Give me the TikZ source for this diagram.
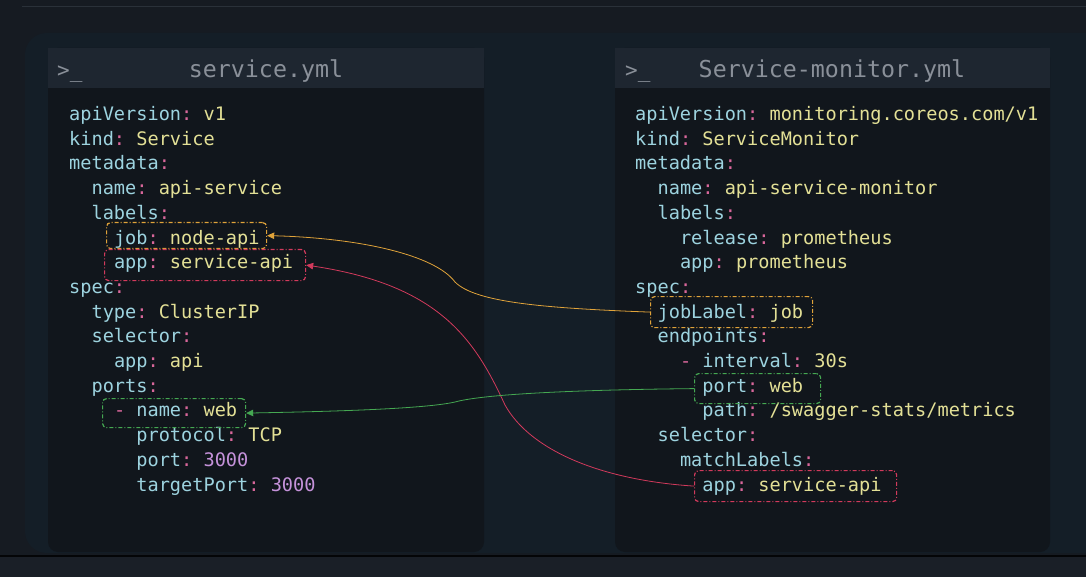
\documentclass[tikz,border=0pt]{standalone}
\usepackage{fontspec}
\setmonofont{DejaVu Sans Mono}
\usetikzlibrary{arrows.meta}
\definecolor{bgout}{HTML}{161B22}
\definecolor{bgpanel}{HTML}{141E27}
\definecolor{codebg}{HTML}{11161C}
\definecolor{titlebg}{HTML}{1E2630}
\definecolor{titlefg}{HTML}{8A9099}
\definecolor{keyc}{HTML}{9DD3DF}
\definecolor{colc}{HTML}{D9679B}
\definecolor{valc}{HTML}{E3E096}
\definecolor{numc}{HTML}{C592DA}
\definecolor{yelc}{HTML}{E0A33A}
\definecolor{redc}{HTML}{D23A5C}
\definecolor{grnc}{HTML}{45A852}
\definecolor{topline}{HTML}{2A3139}
\definecolor{botband}{HTML}{1A1F27}
\newcommand\codefont{\ttfamily\fontsize{18.6pt}{24.7pt}\selectfont}
\newcommand\titlefont{\ttfamily\fontsize{23.3pt}{28pt}\selectfont}
\newcommand\yk[1]{\textcolor{keyc}{#1}}
\newcommand\yc{\textcolor{colc}{:}}
\newcommand\yv[1]{\textcolor{valc}{#1}}
\newcommand\yn[1]{\textcolor{numc}{#1}}
\newcommand\ydash{\textcolor{colc}{-}}
\newcommand\kv[2]{\yk{#1}\yc{} \yv{#2}}
\newcommand\kn[2]{\yk{#1}\yc{} \yn{#2}}
\newcommand\ko[1]{\yk{#1}\yc}
\newcommand\cl[5]{\node[code] (#1) at ({#2+#3*11.2},{120.5+#4*24.7}) {#5};}
\tikzset{
  code/.style={anchor=base west, inner sep=0pt, font=\codefont},
  dbox/.style={draw=#1, line width=1.2pt, rounded corners=4pt,
    dash pattern=on 4pt off 2pt on 1pt off 2pt, anchor=north west, inner sep=0pt},
  conn/.style={draw=#1, line width=0.8pt, -{Triangle[length=7pt,width=6.5pt]}},
  titletext/.style={anchor=base, text=titlefg, font=\titlefont, inner sep=0pt},
  prompt/.style={anchor=base west, text=titlefg, font=\ttfamily\fontsize{21pt}{24pt}\selectfont, inner sep=0pt}
}
\begin{document}
\begin{tikzpicture}[x=1pt,y=-1pt]
\useasboundingbox (0,0) rectangle (1086,577);
\fill[bgout] (0,0) rectangle (1086,577);
\draw[topline, line width=1pt] (22,7) -- (1086,7);
\fill[bgpanel, rounded corners=22pt] (25,33) rectangle (1110,553);
\fill[botband] (0,556) rectangle (1086,577);
\draw[black!80!bgout, line width=1.2pt] (0,556) -- (1086,556);
% code panels
\fill[codebg, rounded corners=10pt] (48,48) rectangle (484,552);
\fill[titlebg] (48,48) rectangle (484,88);
\fill[codebg, rounded corners=10pt] (615,48) rectangle (1050,552);
\fill[titlebg] (615,48) rectangle (1050,88);
\node[prompt] (p1) at (57,78) {>\_};
\node[titletext] (t1) at (266,78) {service.yml};
\node[prompt] (p2) at (625,78) {>\_};
\node[titletext] (t2) at (832,78) {Service-monitor.yml};
% left code
\cl{l0}{69}{0}{0}{\kv{apiVersion}{v1}}
\cl{l1}{69}{0}{1}{\kv{kind}{Service}}
\cl{l2}{69}{0}{2}{\ko{metadata}}
\cl{l3}{69}{2}{3}{\kv{name}{api-service}}
\cl{l4}{69}{2}{4}{\ko{labels}}
\cl{l5}{69}{4}{5}{\kv{job}{node-api}}
\cl{l6}{69}{4}{6}{\kv{app}{service-api}}
\cl{l7}{69}{0}{7}{\ko{spec}}
\cl{l8}{69}{2}{8}{\kv{type}{ClusterIP}}
\cl{l9}{69}{2}{9}{\ko{selector}}
\cl{l10}{69}{4}{10}{\kv{app}{api}}
\cl{l11}{69}{2}{11}{\ko{ports}}
\cl{l12}{69}{4}{12}{\ydash{} \kv{name}{web}}
\cl{l13}{69}{6}{13}{\kv{protocol}{TCP}}
\cl{l14}{69}{6}{14}{\kn{port}{3000}}
\cl{l15}{69}{6}{15}{\kn{targetPort}{3000}}
% right code
\cl{r0}{635}{0}{0}{\kv{apiVersion}{monitoring.coreos.com/v1}}
\cl{r1}{635}{0}{1}{\kv{kind}{ServiceMonitor}}
\cl{r2}{635}{0}{2}{\ko{metadata}}
\cl{r3}{635}{2}{3}{\kv{name}{api-service-monitor}}
\cl{r4}{635}{2}{4}{\ko{labels}}
\cl{r5}{635}{4}{5}{\kv{release}{prometheus}}
\cl{r6}{635}{4}{6}{\kv{app}{prometheus}}
\cl{r7}{635}{0}{7}{\ko{spec}}
\cl{r8}{635}{2}{8}{\kv{jobLabel}{job}}
\cl{r9}{635}{2}{9}{\ko{endpoints}}
\cl{r10}{635}{4}{10}{\ydash{} \kv{interval}{30s}}
\cl{r11}{635}{6}{11}{\kv{port}{web}}
\cl{r12}{635}{6}{12}{\kv{path}{/swagger-stats/metrics}}
\cl{r13}{635}{2}{13}{\ko{selector}}
\cl{r14}{635}{4}{14}{\ko{matchLabels}}
\cl{r15}{635}{6}{15}{\kv{app}{service-api}}
% dashed boxes
\node[dbox=yelc, minimum width=160pt, minimum height=26pt] (jobbox) at (106,222) {};
\node[dbox=redc, minimum width=201pt, minimum height=31pt] (appbox) at (104,249) {};
\node[dbox=grnc, minimum width=143pt, minimum height=29pt] (webbox) at (102,398) {};
\node[dbox=yelc, minimum width=162pt, minimum height=31pt] (jlbox) at (650,296) {};
\node[dbox=grnc, minimum width=126pt, minimum height=30pt] (portbox) at (694,373) {};
\node[dbox=redc, minimum width=202pt, minimum height=31pt] (appbox2) at (694,470) {};
% connectors
\draw[conn=yelc] (jlbox.west) .. controls (540,308) and (475,302) .. (455,282)
  .. controls (435,255) and (360,238) .. (jobbox.east);
\draw[conn=redc] (appbox2.west) .. controls (600,480) and (530,450) .. (505,405)
  .. controls (475,340) and (440,285) .. (appbox.east);
\draw[conn=grnc] (portbox.west) .. controls (560,390) and (480,395) .. (455,402)
  .. controls (420,410) and (300,412) .. (webbox.east);
\end{tikzpicture}
\end{document}
